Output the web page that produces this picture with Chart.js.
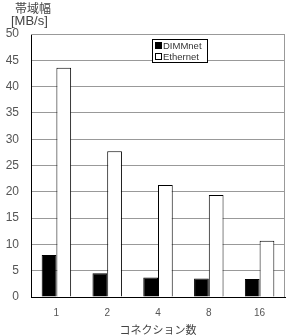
<!DOCTYPE html>
<html lang="ja">
<head>
<meta charset="UTF-8">
<title>帯域幅</title>
<script src="https://cdn.jsdelivr.net/npm/chart.js"></script>
<style>
    html, body { margin: 0; padding: 0; background: #fff; }
    #wrap { width: 289px; height: 336px; }
</style>
</head>
<body>
<div id="wrap"><canvas id="grafica" width="289" height="336"></canvas></div>
<script>
const categorias = ['1', '2', '4', '8', '16'];
const dimmnet = [8.0, 4.5, 3.7, 3.5, 3.4];
const ethernet = [43.6, 27.7, 21.3, 19.4, 10.7];
const yTicks = [0, 5, 10, 15, 20, 25, 30, 35, 40, 45, 50];

const fuenteNum = '"Liberation Sans", Arial, sans-serif';
const fuenteJp = '"Noto Sans CJK JP", sans-serif';

// marco del area, titulo del eje y, y leyenda dentro del grafico
const extras = {
    id: 'extras',
    beforeDatasetsDraw(chart) {
        const ctx = chart.ctx, a = chart.chartArea;
        ctx.save();
        ctx.strokeStyle = '#999';
        ctx.lineWidth = 1;
        ctx.setLineDash([1, 1]);
        ctx.beginPath();
        ctx.moveTo(a.left, a.top + 0.5);
        ctx.lineTo(a.right, a.top + 0.5);
        ctx.stroke();
        ctx.setLineDash([]);
        ctx.beginPath();
        ctx.moveTo(a.right - 0.5, a.top);
        ctx.lineTo(a.right - 0.5, a.bottom);
        ctx.stroke();
        ctx.restore();
    },
    afterDraw(chart) {
        const ctx = chart.ctx;
        ctx.save();
        ctx.fillStyle = '#444';
        ctx.textBaseline = 'middle';
        ctx.textAlign = 'left';
        ctx.font = '12px ' + fuenteJp;
        ctx.fillText('帯域幅', 15, 8);
        ctx.font = '13px ' + fuenteNum;
        ctx.fillText('[MB/s]', 11, 21);

        // leyenda
        const lx = 152.5, ly = 39.5, lw = 55, lh = 23;
        ctx.fillStyle = '#fff';
        ctx.fillRect(lx, ly, lw, lh);
        ctx.strokeStyle = '#000';
        ctx.lineWidth = 1;
        ctx.strokeRect(lx, ly, lw, lh);
        ctx.font = '9.5px ' + fuenteNum;
        chart.data.datasets.forEach((ds, i) => {
            const y = 45.5 + i * 11;
            ctx.fillStyle = ds.backgroundColor;
            ctx.fillRect(155.5, y - 3, 6, 6);
            ctx.strokeStyle = '#000';
            ctx.strokeRect(155.5, y - 3, 6, 6);
            ctx.fillStyle = '#333';
            ctx.fillText(ds.label, 163, y + 0.5);
        });
        ctx.restore();
    }
};

new Chart(document.getElementById('grafica').getContext('2d'), {
    type: 'bar',
    data: {
        labels: categorias,
        datasets: [
            { label: 'DIMMnet', data: dimmnet, backgroundColor: '#000', borderColor: '#000', borderWidth: 1 },
            { label: 'Ethernet', data: ethernet, backgroundColor: '#fff', borderColor: '#000', borderWidth: 1 }
        ]
    },
    options: {
        responsive: false,
        animation: false,
        layout: { padding: { top: 34, right: 4, left: 0, bottom: 0 } },
        plugins: { legend: { display: false }, tooltip: { enabled: false } },
        datasets: { bar: { barPercentage: 1, categoryPercentage: 0.58 } },
        scales: {
            x: {
                grid: { display: false },
                border: { color: '#000', width: 1 },
                ticks: { color: '#555', font: { family: fuenteNum, size: 10 }, padding: 2 },
                title: { display: true, text: 'コネクション数', color: '#444', font: { family: fuenteJp, size: 11 }, padding: { top: 3, bottom: 0 } },
                afterFit: s => { s.height = 39; }
            },
            y: {
                min: 0,
                max: 50,
                afterBuildTicks: s => { s.ticks = yTicks.map(v => ({ value: v })); },
                grid: { color: '#999', drawTicks: false },
                border: { color: '#000', width: 1 },
                ticks: { color: '#555', font: { family: fuenteNum, size: 12 }, padding: 12 },
                afterFit: s => { s.width = 31; }
            }
        }
    },
    plugins: [extras]
});
</script>
</body>
</html>
